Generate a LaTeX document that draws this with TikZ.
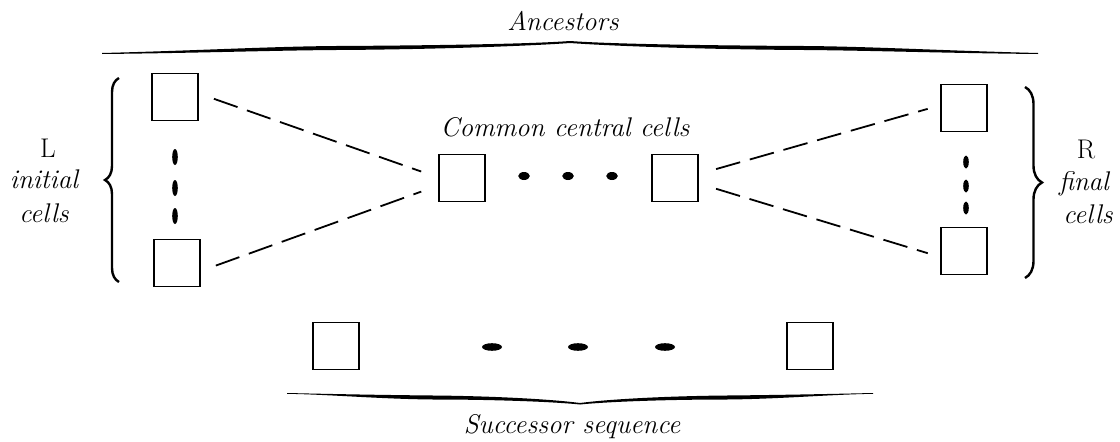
\documentclass[tikz,border=0pt]{standalone}
\usetikzlibrary{decorations.pathreplacing}
\begin{document}
\begin{tikzpicture}[x=1pt,y=-1pt,
  cell/.style={draw, line width=1.6pt, minimum width=46pt, minimum height=47pt, inner sep=0pt},
  link/.style={line width=1.8pt, dash pattern=on 25pt off 10pt},
  lbl/.style={font=\fontsize{27}{32}\selectfont\itshape, anchor=base, inner sep=0pt},
  ulbl/.style={font=\fontsize{27}{32}\selectfont, anchor=base, inner sep=0pt},
  vbrace/.style={line width=2.4pt, decorate},
]
\useasboundingbox (0,0) rectangle (1120,442);

% cells
\node[cell] (TL) at (175,97) {};
\node[cell] (BL) at (177,263) {};
\node[cell] (CL) at (462,178) {};
\node[cell] (CR) at (675,178) {};
\node[cell] (TR) at (964,108) {};
\node[cell] (BR) at (964,251) {};
\node[cell] (SL) at (336,346) {};
\node[cell] (SR) at (810,346) {};

% dashed links
\draw[link, shorten <=16pt, shorten >=18pt] ([yshift=3.5pt]TL.east) -- ([yshift=0.5pt]CL.west);
\draw[link, shorten <=16pt, shorten >=18pt] ([yshift=-8pt]BL.east) -- ([yshift=-7.5pt]CL.west);
\draw[link, shorten <=18pt, shorten >=13pt] ([yshift=4pt]CR.east) -- ([yshift=2.7pt]TR.west);
\draw[link, shorten <=18pt, shorten >=13pt] ([yshift=-5.5pt]CR.east) -- ([yshift=-6pt]BR.west);

% central dots
\foreach \x in {524,568,612} \fill (\x,176) ellipse [x radius=5.8pt, y radius=4pt];
% successor dots
\foreach \x in {492,578,665} \fill (\x,347) ellipse [x radius=10pt, y radius=3.8pt];
% vertical dots
\foreach \y in {157,188,216} \fill (175,\y) ellipse [x radius=2.8pt, y radius=8pt];
\foreach \y in {162,186,208} \fill (966,\y) ellipse [x radius=2.8pt, y radius=6.5pt];

% vertical braces
\draw[vbrace, decoration={brace, amplitude=14pt}] (119,282) -- (119,78);
\draw[vbrace, decoration={brace, amplitude=17pt}] (1025,87) -- (1025,278);

% top brace (Ancestors)
\fill (102,53) .. controls (200,50.5) and (270,46.5) .. (336,46) .. controls (430,45.5) and (530,44) .. (570,41)
  -- (570,43) .. controls (530,46) and (430,49.5) .. (336,50) .. controls (270,50.5) and (200,53) .. (102,54) -- cycle;
\fill (1038,53) .. controls (940,50.5) and (870,46.5) .. (804,46) .. controls (710,45.5) and (610,44) .. (570,41)
  -- (570,43) .. controls (610,46) and (710,49.5) .. (804,50) .. controls (870,50.5) and (940,53) .. (1038,54) -- cycle;

% bottom brace (Successor sequence)
\fill (287,393) .. controls (330,394) and (380,395) .. (433,395.5) .. controls (490,396) and (550,399) .. (580,403)
  -- (580,404.5) .. controls (550,401.5) and (490,399.5) .. (433,399.5) .. controls (380,399) and (330,394.5) .. (287,393.8) -- cycle;
\fill (873,393) .. controls (830,394) and (780,395) .. (727,395.5) .. controls (670,396) and (610,399) .. (580,403)
  -- (580,404.5) .. controls (610,401.5) and (670,399.5) .. (727,399.5) .. controls (780,399) and (830,394.5) .. (873,393.8) -- cycle;

% labels
\node[lbl] (anc) at (563,30) {Ancestors};
\node[lbl] (ccc) at (565,136) {Common central cells};
\node[lbl] (succ) at (572,433) {Successor sequence};
\node[ulbl] (Ltxt) at (48,157) {L};
\node[lbl] (init) at (44,188) {initial};
\node[lbl] (cl) at (44,222) {cells};
\node[ulbl] (Rtxt) at (1086,158) {R};
\node[lbl] (fin) at (1084,190) {final};
\node[lbl] (cr) at (1088,223) {cells};
\end{tikzpicture}
\end{document}
